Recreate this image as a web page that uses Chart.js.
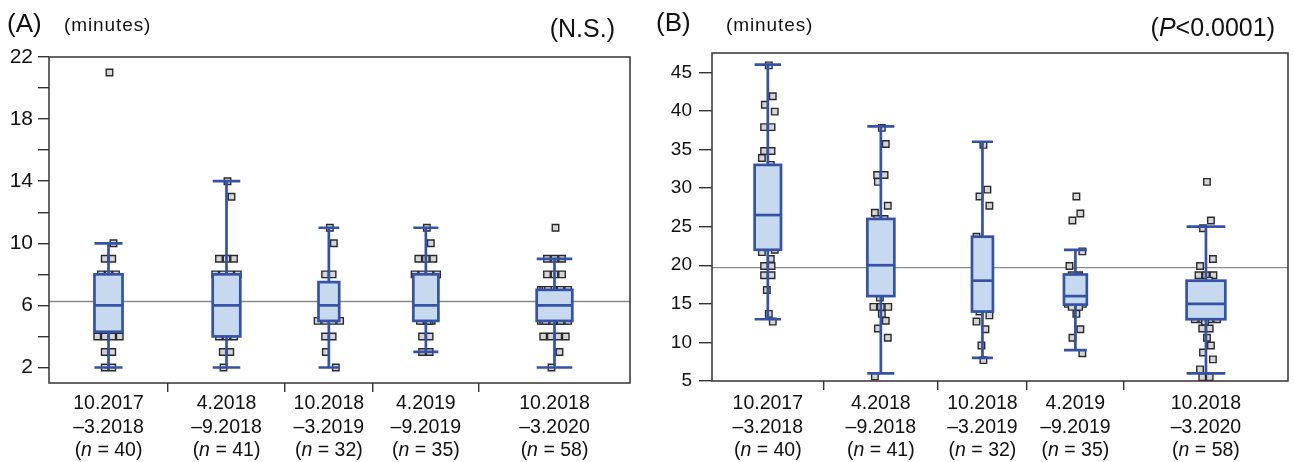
<!DOCTYPE html>
<html>
<head>
<meta charset="utf-8">
<script src="https://cdn.jsdelivr.net/npm/chart.js@4.4.1/dist/chart.umd.min.js"></script>
<style>
  body { margin: 0; background: #fff; width: 1294px; height: 462px; position: relative; overflow: hidden;
         font-family: "Liberation Sans", Arial, sans-serif; color: #111; }
  .panel { position: absolute; top: 0; width: 647px; height: 462px; }
  .t { position: absolute; white-space: nowrap; line-height: 1; }
  .big { font-size: 26px; }
  .unit { font-size: 19px; letter-spacing: 0.9px; }
</style>
</head>
<body>
<div class="panel" style="left:0"><canvas id="chartA" width="647" height="462"></canvas></div>
<div class="panel" style="left:647px"><canvas id="chartB" width="647" height="462"></canvas></div>

<div class="t big" style="left:7px;top:10px">(A)</div>
<div class="t unit" style="left:64px;top:15px">(minutes)</div>
<div class="t big" style="right:679px;top:16px;font-size:25px">(N.S.)</div>
<div class="t big" style="left:656px;top:9px">(B)</div>
<div class="t unit" style="left:726px;top:15px">(minutes)</div>
<div class="t big" style="right:19px;top:15px;font-size:25px">(<i>P</i>&lt;0.0001)</div>

<script>
// groups on the x axis
const categories = [['10.2017', '\u20133.2018'], ['4.2018', '\u20139.2018'], ['10.2018', '\u20133.2019'],
                    ['4.2019', '\u20139.2019'], ['10.2018', '\u20133.2020']];
const sampleSizes = [40, 41, 32, 35, 58];

// (A) box statistics, minutes
const whiskerLowA = [2, 2, 2, 3, 2];
const q1A = [4.3, 4, 5, 5, 5];
const medianA = [6, 6, 6, 6, 6];
const q3A = [8, 8, 7.5, 8, 7];
const whiskerHighA = [10, 14, 11, 11, 9];
const overallA = 6.25;
const pointsA = [
  [21, 10, 9, 9, 8, 8, 8, 7, 7, 7, 7, 7, 7, 7, 7, 6, 6, 6, 6, 6, 6, 6, 6, 6, 6, 5, 5, 5, 5, 5, 5, 5, 4, 4, 4, 4, 3, 3, 2, 2],
  [14, 13, 9, 9, 9, 8, 8, 8, 8, 7, 7, 7, 7, 7, 7, 7, 7, 6, 6, 6, 6, 6, 6, 6, 6, 6, 6, 5, 5, 5, 5, 5, 5, 5, 5, 4, 4, 4, 3, 3, 2],
  [11, 10, 8, 8, 7, 7, 7, 7, 7, 7, 7, 7, 6, 6, 6, 6, 6, 6, 6, 6, 6, 6, 6, 6, 5, 5, 5, 5, 4, 4, 3, 2],
  [11, 10, 9, 9, 9, 8, 8, 8, 8, 7, 7, 7, 7, 7, 7, 7, 6, 6, 6, 6, 6, 6, 6, 6, 6, 5, 5, 5, 5, 5, 5, 4, 4, 3, 3],
  [11, 9, 9, 9, 8, 8, 8, 7, 7, 7, 7, 7, 7, 7, 7, 7, 7, 7, 7, 7, 7, 6, 6, 6, 6, 6, 6, 6, 6, 6, 6, 6, 6, 6, 6, 6, 6, 6, 6, 6,
   5, 5, 5, 5, 5, 5, 5, 5, 5, 5, 5, 5, 4, 4, 4, 4, 3, 2]
];

// (B) box statistics, minutes
const whiskerLowB = [13, 6, 8, 9, 6];
const q1B = [22, 16, 14, 14.9, 13];
const medianB = [26.5, 20, 18, 16, 15];
const q3B = [33, 26, 23.7, 18.8, 18];
const whiskerHighB = [46, 38, 36, 22, 25];
const overallB = 19.7;
const pointsB = [
  [45.9, 41.9, 40.8, 39.9, 37.9, 37.9, 34.8, 34.8, 33.9, 33, 32, 31, 31, 30, 30, 29, 29, 28, 28, 27, 27, 26.5, 26, 25,
   25, 24, 24, 23, 23, 22.5, 22, 21.7, 20.8, 19.9, 19.9, 18.7, 18.7, 16.8, 13.7, 12.7],
  [37.8, 35.7, 31.7, 31.7, 30.8, 27.7, 26.8, 26, 26, 25, 25, 24, 24, 23, 23, 22, 22, 21, 21, 20, 20, 20, 19, 19, 19, 18,
   18, 18, 17, 17, 17, 16.5, 15.8, 14.6, 14.6, 14.6, 13.7, 12.8, 11.8, 10.6, 5.6],
  [35.6, 29.8, 28.9, 27.7, 23.7, 23, 22, 22, 21, 21, 20, 20, 19.5, 19, 19, 18, 18, 18, 17.5, 17, 17, 16, 16, 15, 15, 14.5,
   14, 13.5, 12.7, 11.7, 9.6, 7.7],
  [28.9, 26.7, 25.8, 21.8, 19.9, 18.7, 18.7, 18.5, 18, 18, 18, 17.5, 17.5, 17, 17, 17, 16.5, 16.5, 16, 16, 16, 16, 16, 16,
   15.8, 15.5, 15.5, 15, 15, 15, 14.6, 14.6, 13.7, 11.7, 10.6, 8.6],
  [30.8, 25.8, 24.8, 20.8, 19.9, 18.7, 18.7, 18.7, 18, 17.5, 17.5, 17, 17, 17, 16.5, 16.5, 16.5, 16, 16, 16, 16, 16, 15.5,
   15.5, 15.5, 15, 15, 15, 15, 15, 15, 14.5, 14.5, 14.5, 14.5, 14, 14, 14, 14, 14, 14, 13.5, 13.5, 13.5, 13, 13, 13, 13,
   12.7, 11.8, 11.8, 10.6, 9.6, 8.7, 7.8, 6.5, 5.5, 5.5]
];

// y axis ticks
const yTicksA = [2, 4, 6, 8, 10, 12, 14, 16, 18, 20, 22];
const yLabelsA = [2, 6, 10, 14, 18, 22];
const yTicksB = [5, 7.5, 10, 12.5, 15, 17.5, 20, 22.5, 25, 27.5, 30, 32.5, 35, 37.5, 40, 42.5, 45, 47.5];
const yLabelsB = [5, 10, 15, 20, 25, 30, 35, 40, 45];

// layout: width of each group slot along x
const spansA = [119, 117, 87.7, 106.3, 151];
const spansB = [112.6, 115.4, 89.6, 97.9, 165.5];

const FONT = '"Liberation Sans", Arial, sans-serif';
const BLUE = '#3553a6';
const FILL = '#c6d9ef';

// spread tied values side by side, keep crowded ones inside the box
function jitter(vals, center, hw) {
  const counts = {}, seen = {};
  vals.forEach(v => counts[v] = (counts[v] || 0) + 1);
  const wobble = [1, 5, -3, 7, -6, 3, -1];
  const lim = hw - 4;
  let j = 0;
  return vals.map(v => {
    const k = counts[v], i = seen[v] || 0;
    seen[v] = i + 1;
    let dx = k > 1 ? (i - (k - 1) / 2) * 7.5 : wobble[j++ % wobble.length];
    if (k > 4 && Math.abs(dx) > lim) dx = ((dx + lim) % (2 * lim) + 2 * lim) % (2 * lim) - lim;
    return { x: center + dx, y: v };
  });
}

function makeChart(id, p) {
  const total = p.spans.reduce((a, b) => a + b, 0);
  const bounds = [], centers = [], halfW = [];
  let acc = 0;
  p.spans.forEach((s, i) => {
    centers.push(acc + s / 2);
    halfW.push(s * 0.118);
    acc += s;
    if (i < p.spans.length - 1) bounds.push(acc);
  });
  const pts = [];
  p.points.forEach((vals, i) => pts.push(...jitter(vals, centers[i], halfW[i])));

  const boxes = {
    id: 'boxes',
    afterDatasetsDraw(chart) {
      const { ctx, scales: { x, y } } = chart;
      ctx.save();
      ctx.strokeStyle = BLUE;
      ctx.lineWidth = 2.7;
      centers.forEach((c, i) => {
        const xl = x.getPixelForValue(c - halfW[i]), xr = x.getPixelForValue(c + halfW[i]);
        const xc = x.getPixelForValue(c);
        const yLo = y.getPixelForValue(p.low[i]), yHi = y.getPixelForValue(p.high[i]);
        const y1 = y.getPixelForValue(p.q1[i]), y3 = y.getPixelForValue(p.q3[i]);
        const ym = y.getPixelForValue(p.med[i]);
        ctx.beginPath();
        ctx.moveTo(xc, yHi); ctx.lineTo(xc, y3);
        ctx.moveTo(xc, y1); ctx.lineTo(xc, yLo);
        ctx.moveTo(xl, yHi); ctx.lineTo(xr, yHi);
        ctx.moveTo(xl, yLo); ctx.lineTo(xr, yLo);
        ctx.stroke();
        ctx.fillStyle = FILL;
        ctx.fillRect(xl, y3, xr - xl, y1 - y3);
        ctx.strokeRect(xl, y3, xr - xl, y1 - y3);
        ctx.beginPath();
        ctx.moveTo(xl, ym); ctx.lineTo(xr, ym);
        ctx.stroke();
      });
      ctx.restore();
    }
  };

  const frame = {
    id: 'frame',
    afterDraw(chart) {
      const { ctx, chartArea: a } = chart;
      ctx.save();
      ctx.strokeStyle = '#333';
      ctx.lineWidth = 1.5;
      ctx.strokeRect(a.left, a.top, a.right - a.left, a.bottom - a.top);
      ctx.restore();
    }
  };

  const groupLabels = {
    id: 'groupLabels',
    afterDraw(chart) {
      const { ctx, scales: { x } } = chart;
      ctx.save();
      ctx.fillStyle = '#111';
      ctx.textBaseline = 'alphabetic';
      const fs = 19.5;
      centers.forEach((c, i) => {
        const px = x.getPixelForValue(c);
        ctx.font = fs + 'px ' + FONT;
        ctx.textAlign = 'center';
        ctx.fillText(categories[i][0], px, 409);
        ctx.fillText(categories[i][1], px, 433);
        const a = '(', b = 'n', d = ' = ' + sampleSizes[i] + ')';
        ctx.textAlign = 'left';
        const wa = ctx.measureText(a).width, wd = ctx.measureText(d).width;
        ctx.font = 'italic ' + fs + 'px ' + FONT;
        const wb = ctx.measureText(b).width;
        let sx = px - (wa + wb + wd) / 2;
        ctx.font = fs + 'px ' + FONT;
        ctx.fillText(a, sx, 456);
        ctx.font = 'italic ' + fs + 'px ' + FONT;
        ctx.fillText(b, sx + wa, 456);
        ctx.font = fs + 'px ' + FONT;
        ctx.fillText(d, sx + wa + wb, 456);
      });
      ctx.restore();
    }
  };

  return new Chart(document.getElementById(id).getContext('2d'), {
    type: 'scatter',
    data: {
      datasets: [{
        data: pts,
        pointStyle: 'rect',
        pointRadius: 4.6,
        backgroundColor: '#d6d6d6',
        borderColor: '#2a2a2a',
        borderWidth: 1.4
      }, {
        type: 'line',
        data: [{ x: 0, y: p.overall }, { x: total, y: p.overall }],
        borderColor: '#8a8a8a',
        borderWidth: 1.3,
        pointRadius: 0
      }]
    },
    options: {
      responsive: false,
      animation: false,
      events: [],
      layout: { padding: { top: p.top, right: p.right, left: 0, bottom: 0 } },
      plugins: { legend: { display: false }, tooltip: { enabled: false } },
      scales: {
        x: {
          type: 'linear', min: 0, max: total,
          afterBuildTicks: s => { s.ticks = bounds.map(v => ({ value: v })); },
          afterFit: s => { s.height = p.xHeight; },
          ticks: { display: false },
          grid: { drawOnChartArea: false, tickLength: 9, color: '#333', lineWidth: 1.4 },
          border: { display: false }
        },
        y: {
          min: p.min, max: p.max,
          afterBuildTicks: s => { s.ticks = p.yTicks.map(v => ({ value: v })); },
          afterFit: s => { s.width = p.yWidth; },
          ticks: {
            callback: v => p.yLabels.includes(v) ? String(v) : '',
            font: { family: FONT, size: p.tickFont },
            color: '#111',
            padding: p.tickPad
          },
          grid: { drawOnChartArea: false, tickLength: p.tickLen, color: '#333', lineWidth: 1.4 },
          border: { display: false }
        }
      }
    },
    plugins: [boxes, frame, groupLabels]
  });
}

makeChart('chartA', {
  spans: spansA, points: pointsA, low: whiskerLowA, q1: q1A, med: medianA, q3: q3A, high: whiskerHighA,
  overall: overallA, yTicks: yTicksA, yLabels: yLabelsA, min: 1, max: 22,
  top: 57, right: 17, yWidth: 49, xHeight: 79, tickFont: 21, tickPad: 5, tickLen: 11
});

makeChart('chartB', {
  spans: spansB, points: pointsB, low: whiskerLowB, q1: q1B, med: medianB, q3: q3B, high: whiskerHighB,
  overall: overallB, yTicks: yTicksB, yLabels: yLabelsB, min: 5, max: 47.5,
  top: 53, right: 1, yWidth: 65, xHeight: 81, tickFont: 19, tickPad: 7, tickLen: 13
});
</script>
</body>
</html>
